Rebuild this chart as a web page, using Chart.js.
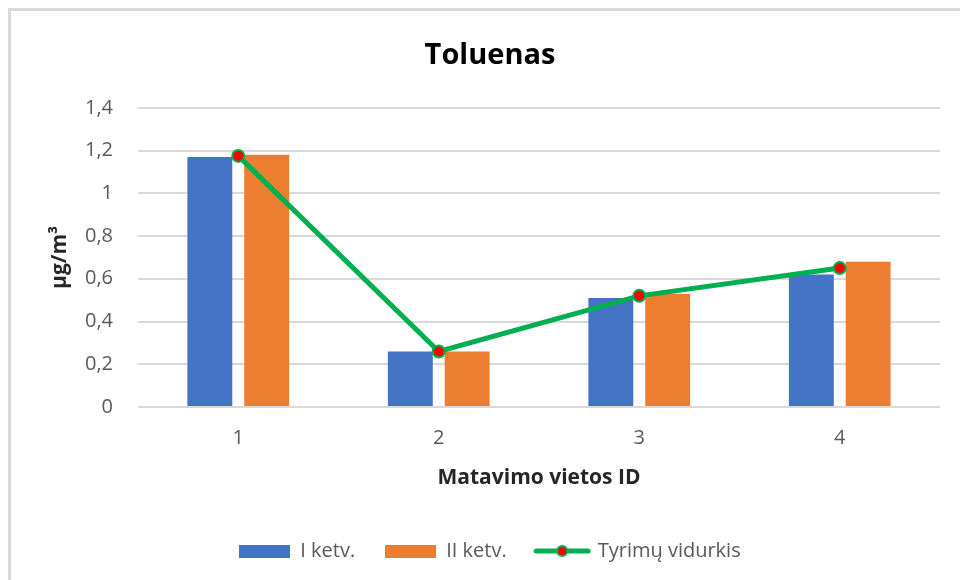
<!DOCTYPE html>
<html>
<head>
<meta charset="utf-8">
<script src="https://cdn.jsdelivr.net/npm/chart.js@4"></script>
<style>
    html, body { margin: 0; padding: 0; background: #fff; }
    #wrap { position: relative; width: 960px; height: 580px; }
    #frameTop { position: absolute; left: 8px; top: 8px; width: 952px; height: 3px; background: #d9d9d9; }
    #frameLeft { position: absolute; left: 8px; top: 8px; width: 3px; height: 572px; background: #d9d9d9; }
</style>
</head>
<body>
<div id="wrap">
    <canvas id="chart" width="960" height="580"></canvas>
    <div id="frameTop"></div>
    <div id="frameLeft"></div>
</div>
<script>
const categories = ['1', '2', '3', '4'];
const quarter1 = [1.17, 0.26, 0.51, 0.62];
const quarter2 = [1.18, 0.26, 0.53, 0.68];
const average = [1.175, 0.26, 0.52, 0.65];
const yTicks = [0, 0.2, 0.4, 0.6, 0.8, 1, 1.2, 1.4];

const BLUE = '#4472C4';
const ORANGE = '#ED7D31';
const GREEN = '#00B050';
const RED = '#FF0000';
const FONT = '"Open Sans", Lato, sans-serif';

const fmtComma = (v) => String(Number(v.toFixed(1))).replace('.', ',');

function rectIcon(color) {
    const c = document.createElement('canvas');
    c.width = 51; c.height = 13;
    const g = c.getContext('2d');
    g.fillStyle = color;
    g.fillRect(0, 0, 51, 13);
    return c;
}

function lineIcon() {
    const c = document.createElement('canvas');
    c.width = 58; c.height = 16;
    const g = c.getContext('2d');
    g.strokeStyle = GREEN;
    g.lineWidth = 5;
    g.lineCap = 'round';
    g.beginPath();
    g.moveTo(3, 8);
    g.lineTo(55, 8);
    g.stroke();
    g.beginPath();
    g.arc(29, 8, 5, 0, Math.PI * 2);
    g.fillStyle = RED;
    g.fill();
    g.lineWidth = 2;
    g.stroke();
    return c;
}

const legendIcons = [rectIcon(BLUE), rectIcon(ORANGE), lineIcon()];

new Chart(document.getElementById('chart'), {
    type: 'bar',
    data: {
        labels: categories,
        datasets: [
            {
                label: 'I ketv.',
                data: quarter1,
                backgroundColor: BLUE,
                categoryPercentage: 0.567,
                barPercentage: 0.79,
                order: 1
            },
            {
                label: 'II ketv.',
                data: quarter2,
                backgroundColor: ORANGE,
                categoryPercentage: 0.567,
                barPercentage: 0.79,
                order: 1
            },
            {
                type: 'line',
                label: 'Tyrimų vidurkis',
                data: average,
                borderColor: GREEN,
                borderWidth: 5,
                backgroundColor: RED,
                pointBackgroundColor: RED,
                pointBorderColor: GREEN,
                pointBorderWidth: 2,
                pointRadius: 6,
                pointStyle: 'circle',
                tension: 0,
                order: 0
            }
        ]
    },
    options: {
        responsive: false,
        animation: false,
        layout: { padding: { left: 40, right: 20, top: 0, bottom: 9 } },
        plugins: {
            tooltip: { enabled: false },
            title: {
                display: true,
                text: 'Toluenas',
                color: '#000',
                font: { family: FONT, size: 29, weight: 'bold' },
                padding: { top: 38, bottom: 35 }
            },
            legend: {
                position: 'bottom',
                labels: {
                    usePointStyle: true,
                    pointStyleWidth: 51,
                    boxHeight: 13,
                    padding: 30,
                    color: '#595959',
                    font: { family: FONT, size: 20 },
                    sort: (a, b) => a.datasetIndex - b.datasetIndex,
                    generateLabels: (chart) => {
                        const items = Chart.defaults.plugins.legend.labels.generateLabels(chart);
                        items.forEach(it => { it.pointStyle = legendIcons[it.datasetIndex]; });
                        return items;
                    }
                }
            }
        },
        scales: {
            x: {
                grid: { display: false, drawTicks: false },
                border: { display: false },
                ticks: { color: '#595959', font: { family: FONT, size: 20 }, padding: 19 },
                title: {
                    display: true,
                    text: 'Matavimo vietos ID',
                    color: '#262626',
                    font: { family: FONT, size: 21, weight: 'bold' },
                    padding: { top: 0, bottom: 20 }
                },
                afterFit: (scale) => { scale.height = 104; }
            },
            y: {
                min: 0,
                max: 1.4,
                afterBuildTicks: (scale) => { scale.ticks = yTicks.map(v => ({ value: v })); },
                grid: { color: '#d9d9d9', lineWidth: 2, drawTicks: false },
                border: { display: false },
                ticks: {
                    color: '#595959',
                    font: { family: FONT, size: 20 },
                    padding: 25,
                    callback: (v) => fmtComma(v)
                },
                title: {
                    display: true,
                    text: 'µg/m³',
                    color: '#262626',
                    font: { family: FONT, size: 21, weight: 'bold' },
                    padding: { top: 7, bottom: 0 }
                },
                afterFit: (scale) => { scale.width = 98; }
            }
        }
    }
});
</script>
</body>
</html>
